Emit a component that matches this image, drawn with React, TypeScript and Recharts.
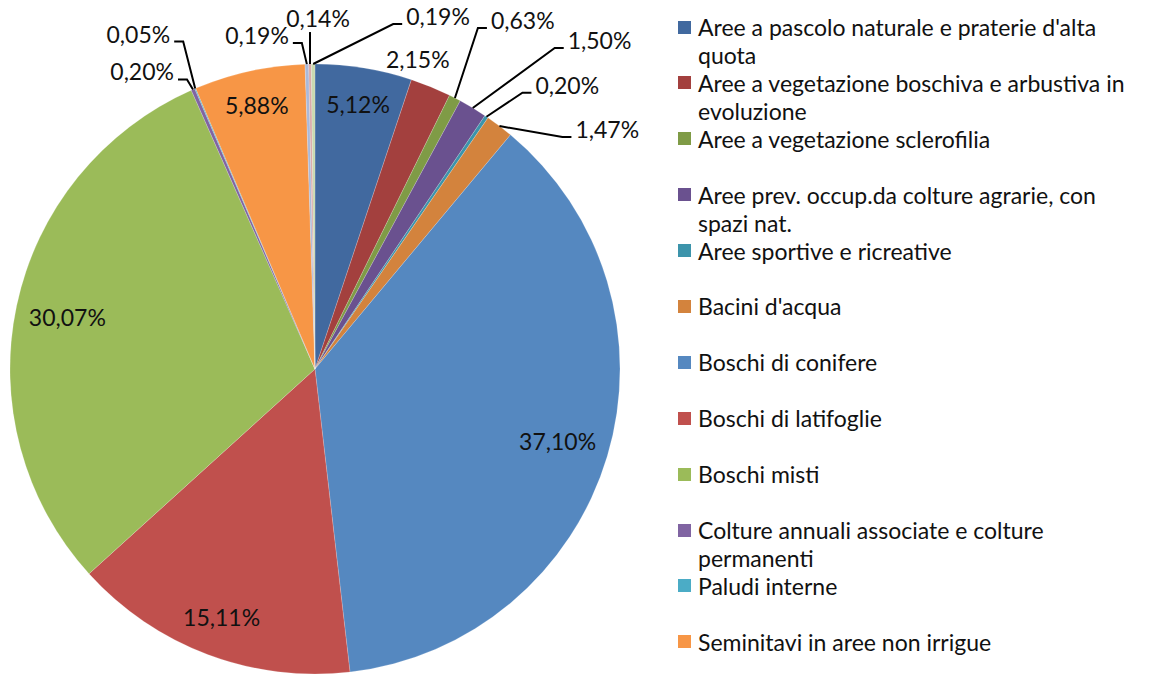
import { PieChart, Pie, Cell, Legend } from "recharts";

const categories = [
  "Aree a pascolo naturale e praterie d'alta quota",
  "Aree a vegetazione boschiva e arbustiva in evoluzione",
  "Aree a vegetazione sclerofilia",
  "Aree prev. occup.da colture agrarie, con spazi nat.",
  "Aree sportive e ricreative",
  "Bacini d'acqua",
  "Boschi di conifere",
  "Boschi di latifoglie",
  "Boschi misti",
  "Colture annuali associate e colture permanenti",
  "Paludi interne",
  "Seminitavi in aree non irrigue",
  "Sistemi colturali e particellari complessi",
  "Tessuto urbano discontinuo",
  "Zone industriali o commerciali",
];

const shares = [5.12, 2.15, 0.63, 1.5, 0.2, 1.47, 37.1, 15.11, 30.07, 0.2, 0.05, 5.88, 0.19, 0.14, 0.19];

const colors = [
  "#41699f", "#a3403e", "#7f9b46", "#6a518f", "#3c94ab", "#d3833d",
  "#5588c0", "#c0504d", "#9bbb59", "#8064a2", "#4bacc6", "#f79646",
  "#aab9d9", "#d9aaa9", "#c9d9b0",
];

// legend only shows the first 12 entries (rest is cut off in the original)
const legendCount = 12;

const data = categories.map((name, i) => ({ name, value: shares[i] }));

// how each slice label is placed: inside at a radius fraction, just outside, or with a leader line
type Layout =
  | { kind: "in"; r: number }
  | { kind: "near"; dx: number; dy: number }
  | { kind: "line"; dx: number; dy: number; side: number };

const labelLayout: Layout[] = [
  { kind: "in", r: 0.88 },
  { kind: "near", dx: -13, dy: -28 },
  { kind: "line", dx: 23, dy: -70, side: 1 },
  { kind: "line", dx: 82, dy: -60, side: 1 },
  { kind: "line", dx: 36, dy: -24, side: 1 },
  { kind: "line", dx: 63, dy: 11, side: 1 },
  { kind: "in", r: 0.83 },
  { kind: "in", r: 0.87 },
  { kind: "in", r: 0.83 },
  { kind: "line", dx: -6, dy: -10, side: -1 },
  { kind: "line", dx: -12, dy: -47, side: -1 },
  { kind: "in", r: 0.885 },
  { kind: "line", dx: -5, dy: -21, side: -1 },
  { kind: "line", dx: 0, dy: -32, side: 0 },
  { kind: "line", dx: 80, dy: -40, side: 1 },
];

const RAD = Math.PI / 180;
const FONT = "Lato, 'Open Sans', sans-serif";

function fmt(v: number) {
  return v.toFixed(2).replace(".", ",") + "%";
}

function renderLabel(props: any) {
  const { cx, cy, midAngle, outerRadius, index, value } = props;
  const lay = labelLayout[index];
  const cos = Math.cos(-midAngle * RAD);
  const sin = Math.sin(-midAngle * RAD);
  const txt = fmt(Number(value));
  const common = { fontFamily: FONT, fontSize: 23, fill: "#111" };

  if (lay.kind === "in") {
    const x = cx + outerRadius * lay.r * cos;
    const y = cy + outerRadius * lay.r * sin;
    return (
      <text key={index} x={x} y={y} textAnchor="middle" dominantBaseline="central" {...common}>
        {txt}
      </text>
    );
  }

  const ex = cx + outerRadius * cos;
  const ey = cy + outerRadius * sin;

  if (lay.kind === "near") {
    return (
      <text key={index} x={ex + lay.dx} y={ey + lay.dy} textAnchor="middle" dominantBaseline="central" {...common}>
        {txt}
      </text>
    );
  }

  const bx = ex + lay.dx;
  const by = ey + lay.dy;
  if (lay.side === 0) {
    return (
      <g key={index}>
        <polyline points={`${ex},${ey} ${bx},${by}`} fill="none" stroke="#000" strokeWidth={2} />
        <text x={bx + 8} y={by - 14} textAnchor="middle" dominantBaseline="central" {...common}>
          {txt}
        </text>
      </g>
    );
  }
  const tx = bx + lay.side * 9;
  return (
    <g key={index}>
      <polyline points={`${ex},${ey} ${bx},${by} ${tx},${by}`} fill="none" stroke="#000" strokeWidth={2} />
      <text
        x={tx + lay.side * 4}
        y={by - 8}
        textAnchor={lay.side > 0 ? "start" : "end"}
        dominantBaseline="central"
        {...common}
      >
        {txt}
      </text>
    </g>
  );
}

function renderLegend() {
  return (
    <div style={{ fontFamily: FONT, fontSize: 23, color: "#111" }}>
      {categories.slice(0, legendCount).map((name, i) => (
        <div key={name} style={{ display: "flex", alignItems: "flex-start", height: 55.9 }}>
          <div
            style={{
              width: 13,
              height: 13,
              marginTop: 7.5,
              marginRight: 7,
              background: colors[i],
              flex: "0 0 auto",
            }}
          />
          <div style={{ lineHeight: "28px", width: 445 }}>{name}</div>
        </div>
      ))}
    </div>
  );
}

export default function App() {
  return (
    <div style={{ position: "absolute", left: 0, top: 0, width: 1149, height: 675, background: "#fff" }}>
      <PieChart width={1149} height={675} margin={{ top: 0, right: 0, bottom: 0, left: 0 }}>
        <Pie
          data={data}
          dataKey="value"
          nameKey="name"
          cx={315}
          cy={369}
          outerRadius={305}
          startAngle={90}
          endAngle={-270}
          stroke="rgba(255,255,255,0.35)"
          strokeWidth={0.5}
          label={renderLabel}
          labelLine={false}
          isAnimationActive={false}
        >
          {data.map((d, i) => (
            <Cell key={d.name} fill={colors[i]} />
          ))}
        </Pie>
        <Legend
          content={renderLegend}
          wrapperStyle={{ position: "absolute", left: 678, top: 13, width: 470 }}
        />
      </PieChart>
    </div>
  );
}
